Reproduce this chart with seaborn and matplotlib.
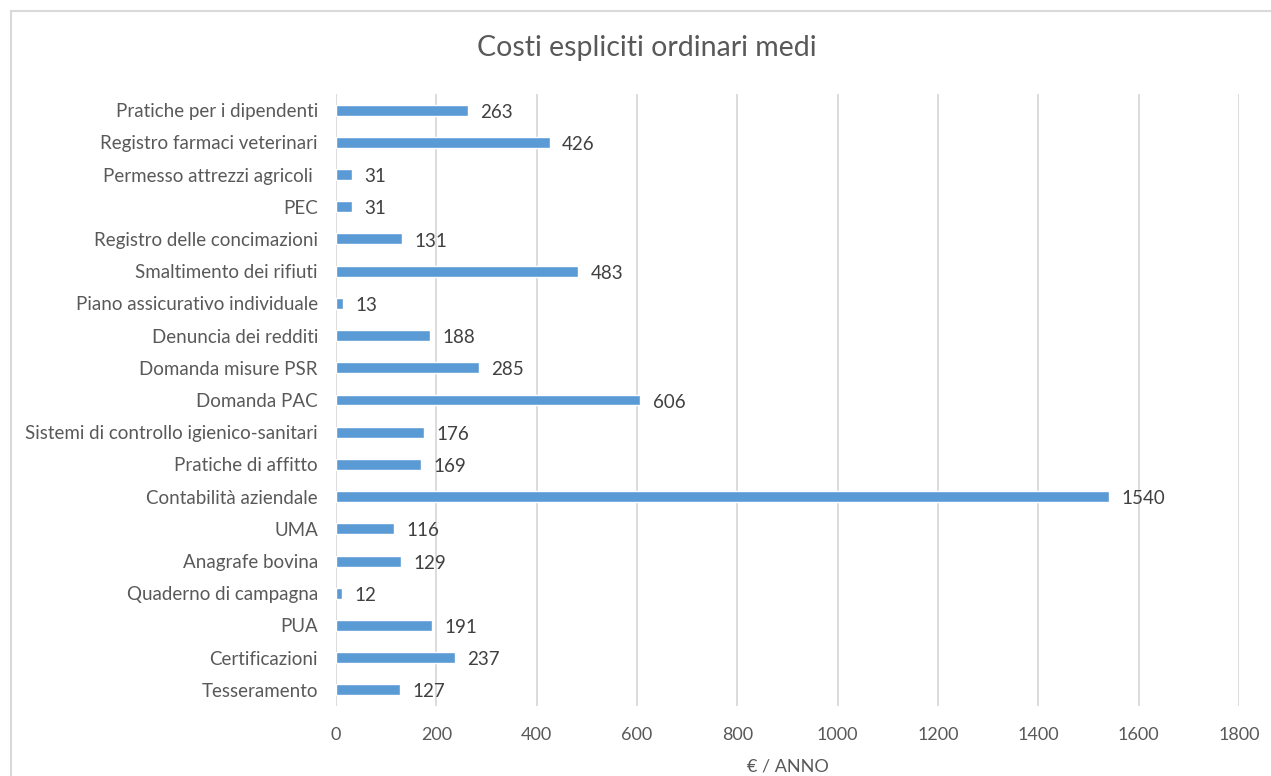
import matplotlib
matplotlib.use("Agg")
import matplotlib.pyplot as plt
from matplotlib.patches import Rectangle
import seaborn as sns
import pandas as pd

categories = [
    "Pratiche per i dipendenti",
    "Registro farmaci veterinari",
    "Permesso attrezzi agricoli ",
    "PEC",
    "Registro delle concimazioni",
    "Smaltimento dei rifiuti",
    "Piano assicurativo individuale",
    "Denuncia dei redditi",
    "Domanda misure PSR",
    "Domanda PAC",
    "Sistemi di controllo igienico-sanitari",
    "Pratiche di affitto",
    "Contabilità aziendale",
    "UMA",
    "Anagrafe bovina",
    "Quaderno di campagna",
    "PUA",
    "Certificazioni",
    "Tesseramento",
]
values = [263, 426, 31, 31, 131, 483, 13, 188, 285, 606, 176, 169, 1540, 116, 129, 12, 191, 237, 127]
x_ticks = [0, 200, 400, 600, 800, 1000, 1200, 1400, 1600, 1800]

title = "Costi espliciti ordinari medi"
x_label = "€ / ANNO"

df = pd.DataFrame({"voce": categories, "costo": values})

sns.set_theme(style="white")
plt.rcParams["font.family"] = ["Lato", "DejaVu Sans"]

text_color = "#595959"
bar_color = "#5B9BD5"
grid_color = "#D9D9D9"

fig = plt.figure(figsize=(12.71, 7.76), dpi=100)
fig.patch.set_facecolor("white")

# chart frame
fig.patches.append(Rectangle((11 / 1271, -0.05), 1.2, 1 - 11 / 776 + 0.05,
                             transform=fig.transFigure, fill=False,
                             edgecolor="#D9D9D9", linewidth=1.5, zorder=0))

ax = fig.add_axes([336 / 1271, 1 - 706 / 776, (1239 - 336) / 1271, (706 - 94) / 776])
sns.barplot(data=df, x="costo", y="voce", orient="h", color=bar_color,
            width=0.34, saturation=1, ax=ax, zorder=3)

ax.set_xlim(0, 1800)
ax.set_xticks(x_ticks)
ax.set_xticklabels([str(t) for t in x_ticks])
ax.grid(axis="x", color=grid_color, linewidth=1.3, zorder=0)
ax.grid(axis="y", visible=False)
for s in ax.spines.values():
    s.set_visible(False)
ax.tick_params(axis="both", length=0, colors=text_color)
ax.tick_params(axis="y", pad=13, labelsize=13.5)
ax.tick_params(axis="x", pad=15, labelsize=13)
ax.set_ylabel("")
ax.set_xlabel(x_label, color=text_color, fontsize=13, labelpad=11)

for i, v in enumerate(values):
    ax.annotate(str(v), xy=(v, i), xytext=(9, -1.5), textcoords="offset points",
                va="center", ha="left", fontsize=13.5, color="#404040")

fig.text((476 + 818) / 2 / 1271, 1 - 48 / 776, title, ha="center", va="center",
         fontsize=20.5, color=text_color)

fig.savefig("out.png", dpi=100)
